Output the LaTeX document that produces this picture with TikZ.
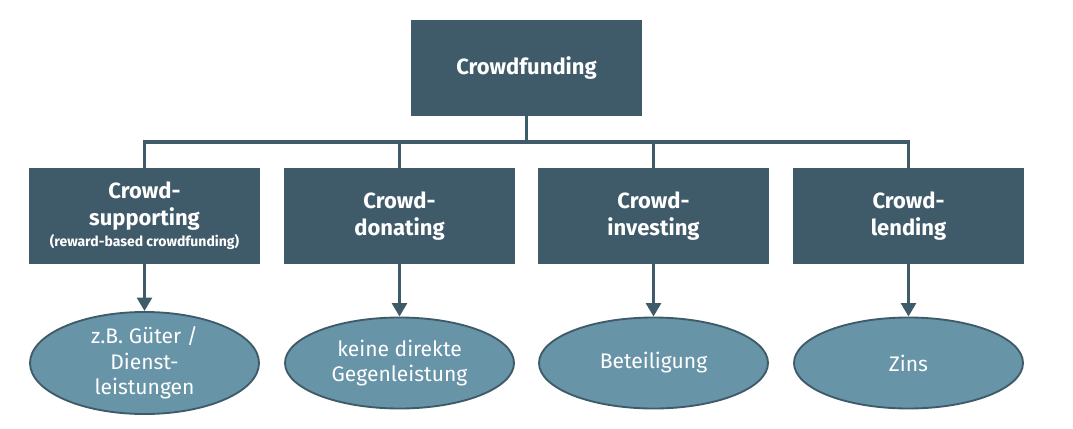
\documentclass[tikz,border=0pt]{standalone}
\usepackage{fontspec}
\setmainfont{Fira Sans}
\usetikzlibrary{shapes.geometric,arrows.meta}
\definecolor{dark}{HTML}{3F5B6A}
\definecolor{light}{HTML}{6894A8}
\begin{document}
\begin{tikzpicture}[x=0.75pt,y=-0.75pt,
  box/.style={fill=dark,draw=none,minimum width=231*0.75pt,minimum height=96*0.75pt,
    text=white,font=\fontsize{16.5}{20}\selectfont\bfseries,align=center,inner sep=0pt},
  oval/.style={ellipse,fill=light,draw=dark,line width=1.4pt,minimum width=229*0.75pt,
    minimum height=91*0.75pt,text=white,font=\fontsize{15.8}{19}\selectfont,align=center,inner sep=0pt},
  conn/.style={draw=dark,line width=2.3pt},
  arr/.style={conn,-{Triangle[length=10pt,width=11pt]}}]
\useasboundingbox (0,0) rectangle (1073,428);
\node[box] (top) at (526.5,68) {Crowdfunding};
\node[box] (b1) at (144.5,216) {Crowd-\\supporting\\[-4pt]{\fontsize{10.5}{12}\selectfont (reward-based crowdfunding)}};
\node[box] (b2) at (399.5,216) {Crowd-\\donating};
\node[box] (b3) at (653.5,216) {Crowd-\\investing};
\node[box] (b4) at (908.5,216) {Crowd-\\lending};
\node[oval] (e1) at (144.5,363) {z.B. Güter /\\Dienst-\\leistungen};
\node[oval] (e2) at (399.5,363) {keine direkte\\Gegenleistung};
\node[oval] (e3) at (653.5,363) {Beteiligung};
\node[oval] (e4) at (908.5,363) {Zins};
\coordinate (bus) at (526.5,142);
\draw[conn] (top.south) -- (bus);
\draw[conn,line cap=rect] (b1.north) |- (bus) -| (b4.north);
\draw[conn] (b2.north) -- (b2.north |- bus);
\draw[conn] (b3.north) -- (b3.north |- bus);
\foreach \i in {1,2,3,4} \draw[arr] (b\i.south) -- (e\i.north);
\end{tikzpicture}
\end{document}
